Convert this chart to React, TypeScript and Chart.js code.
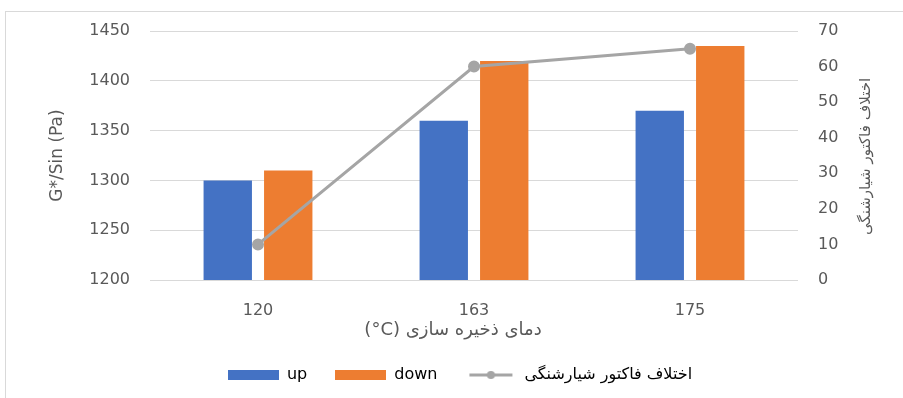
import React, { useEffect, useRef } from "react";
import { Chart, registerables } from "chart.js";

Chart.register(...registerables);

const categories = ["120", "163", "175"];
const upValues = [1300, 1360, 1370];
const downValues = [1310, 1420, 1435];
const factorValues = [10, 60, 65];

const leftMin = 1200;
const leftMax = 1450;
const leftStep = 50;
const rightMin = 0;
const rightMax = 70;
const rightStep = 10;

const leftTitle = "G*/Sin (Pa)";
const rightTitle = "اختلاف فاکتور شیارشنگی";
const xTitle = "(°C) دمای ذخیره سازی";
const seriesNames = ["up", "down", "اختلاف فاکتور شیارشنگی"];

const BLUE = "#4472C4";
const ORANGE = "#ED7D31";
const GREY = "#A5A5A5";
const TEXT = "#595959";
const FONT = "'DejaVu Sans', sans-serif";

function makeBox(color: string): HTMLCanvasElement {
  const c = document.createElement("canvas");
  c.width = 51;
  c.height = 10;
  const g = c.getContext("2d")!;
  g.fillStyle = color;
  g.fillRect(0, 0, 51, 10);
  return c;
}

function makeLine(color: string): HTMLCanvasElement {
  const c = document.createElement("canvas");
  c.width = 51;
  c.height = 10;
  const g = c.getContext("2d")!;
  g.strokeStyle = color;
  g.lineWidth = 3;
  g.beginPath();
  g.moveTo(4, 5);
  g.lineTo(47, 5);
  g.stroke();
  g.fillStyle = color;
  g.beginPath();
  g.arc(25.5, 5, 4, 0, Math.PI * 2);
  g.fill();
  return c;
}

const titlesPlugin = {
  id: "customTitles",
  afterDraw(chart: any) {
    const ctx = chart.ctx as CanvasRenderingContext2D;
    const area = chart.chartArea;
    ctx.save();
    ctx.fillStyle = TEXT;
    ctx.textAlign = "center";
    ctx.textBaseline = "middle";
    // x-axis title
    ctx.font = `18px ${FONT}`;
    ctx.fillText(xTitle, (area.left + area.right) / 2 - 21, area.bottom + 50);
    // right axis title, rotated like the left one
    ctx.font = `15px ${FONT}`;
    ctx.translate(chart.width - 37, (area.top + area.bottom) / 2 + 1);
    ctx.rotate(-Math.PI / 2);
    ctx.fillText(rightTitle, 0, 0);
    ctx.restore();
  },
};

export default function App() {
  const ref = useRef<HTMLCanvasElement | null>(null);

  useEffect(() => {
    if (!ref.current) return;
    const boxUp = makeBox(BLUE);
    const boxDown = makeBox(ORANGE);
    const lineImg = makeLine(GREY);

    const chart = new Chart(ref.current, {
      type: "bar",
      data: {
        labels: categories,
        datasets: [
          {
            type: "bar",
            label: seriesNames[0],
            data: upValues,
            backgroundColor: BLUE,
            yAxisID: "y",
            order: 2,
            barPercentage: 0.8,
            categoryPercentage: 0.56,
          },
          {
            type: "bar",
            label: seriesNames[1],
            data: downValues,
            backgroundColor: ORANGE,
            yAxisID: "y",
            order: 2,
            barPercentage: 0.8,
            categoryPercentage: 0.56,
          },
          {
            type: "line",
            label: seriesNames[2],
            data: factorValues,
            borderColor: GREY,
            backgroundColor: GREY,
            borderWidth: 3,
            pointRadius: 4.5,
            pointBackgroundColor: GREY,
            pointBorderColor: GREY,
            yAxisID: "y1",
            order: 0,
            tension: 0,
          } as any,
        ],
      },
      plugins: [titlesPlugin],
      options: {
        responsive: false,
        animation: false,
        layout: { padding: { left: 17, right: 0, top: 31, bottom: 5 } },
        plugins: {
          tooltip: { enabled: false },
          legend: {
            position: "bottom",
            labels: {
              usePointStyle: true,
              pointStyleWidth: 51,
              boxHeight: 10,
              padding: 28,
              color: TEXT,
              font: { family: FONT, size: 16 },
              generateLabels: () => [
                { text: seriesNames[0], pointStyle: boxUp as any, fillStyle: BLUE, strokeStyle: BLUE, lineWidth: 0, hidden: false, datasetIndex: 0 },
                { text: seriesNames[1], pointStyle: boxDown as any, fillStyle: ORANGE, strokeStyle: ORANGE, lineWidth: 0, hidden: false, datasetIndex: 1 },
                { text: seriesNames[2], pointStyle: lineImg as any, fillStyle: GREY, strokeStyle: GREY, lineWidth: 0, hidden: false, datasetIndex: 2 },
              ],
            },
          },
        },
        scales: {
          x: {
            grid: { display: false },
            border: { display: false },
            ticks: { color: TEXT, font: { family: FONT, size: 16 }, padding: 13 },
            afterFit: (s: any) => {
              s.height = 59;
            },
          },
          y: {
            position: "left",
            min: leftMin,
            max: leftMax,
            grid: { color: "#D9D9D9", drawTicks: false },
            border: { display: false },
            ticks: {
              stepSize: leftStep,
              color: TEXT,
              font: { family: FONT, size: 16 },
              padding: 20,
              callback: (v: any) => String(v),
            },
            title: {
              display: true,
              text: leftTitle,
              color: TEXT,
              font: { family: FONT, size: 17 },
              padding: { top: 30, bottom: 0 },
            },
            afterFit: (s: any) => {
              s.width = 133;
            },
          },
          y1: {
            position: "right",
            min: rightMin,
            max: rightMax,
            grid: { display: false, drawTicks: false },
            border: { display: false },
            ticks: {
              stepSize: rightStep,
              color: TEXT,
              font: { family: FONT, size: 16 },
              padding: 20,
              callback: (v: any) => String(v),
            },
            afterFit: (s: any) => {
              s.width = 105;
            },
          },
        },
      },
    });
    return () => chart.destroy();
  }, []);

  return (
    <div style={{ position: "fixed", left: 0, top: 0, width: 903, height: 398, overflow: "hidden", background: "#fff" }}>
      <div style={{ position: "absolute", left: 5, top: 11, width: 1000, height: 500, border: "1px solid #D9D9D9" }} />
      <canvas ref={ref} width={903} height={398} style={{ position: "absolute", left: 0, top: 0 }} />
    </div>
  );
}
